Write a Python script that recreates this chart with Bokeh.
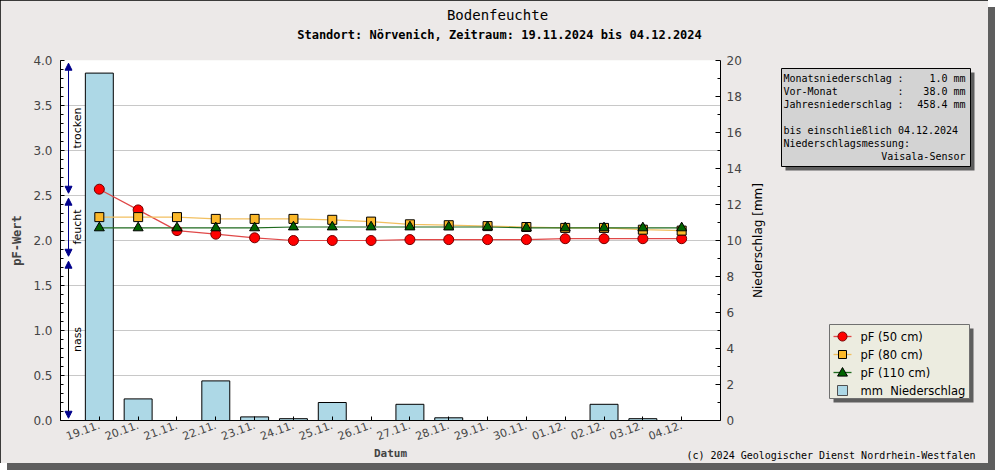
import math
from bokeh.plotting import figure
from bokeh.models import (Range1d, LinearAxis, FixedTicker, PrintfTickFormatter, Label, Arrow,
                          NormalHead)
from bokeh.core.properties import value
from bokeh.embed import file_html
from bokeh.resources import INLINE

# ---------------- data ----------------
dates = ["19.11.", "20.11.", "21.11.", "22.11.", "23.11.", "24.11.", "25.11.", "26.11.",
         "27.11.", "28.11.", "29.11.", "30.11.", "01.12.", "02.12.", "03.12.", "04.12."]
pf50 = [2.57, 2.34, 2.11, 2.07, 2.03, 2.00, 2.00, 2.00, 2.01, 2.01, 2.01, 2.01, 2.02, 2.02, 2.02, 2.02]
pf80 = [2.26, 2.26, 2.26, 2.24, 2.24, 2.24, 2.23, 2.21, 2.18, 2.17, 2.16, 2.15, 2.14, 2.14, 2.12, 2.11]
pf110 = [2.14, 2.14, 2.14, 2.14, 2.14, 2.15, 2.15, 2.15, 2.15, 2.15, 2.15, 2.14, 2.14, 2.14, 2.14, 2.14]
rain_mm = [19.3, 1.2, 0.0, 2.2, 0.2, 0.1, 1.0, 0.0, 0.9, 0.15, 0.0, 0.0, 0.0, 0.9, 0.1, 0.0]
pf_ticks = [0.0, 0.5, 1.0, 1.5, 2.0, 2.5, 3.0, 3.5, 4.0]
mm_ticks = [0, 2, 4, 6, 8, 10, 12, 14, 16, 18, 20]
zones = [("trocken", 2.5, 4.0, "#00008B"), ("feucht", 1.8, 2.5, "#00008B"), ("nass", 0.0, 1.8, "#000000")]
info_rows = [("Monatsniederschlag", "1.0 mm"), ("Vor-Monat", "38.0 mm"), ("Jahresniederschlag", "458.4 mm")]
info_notes = ["bis einschließlich 04.12.2024", "Niederschlagsmessung:"]
info_sensor = "Vaisala-Sensor"
series_labels = ["pF (50 cm)", "pF (80 cm)", "pF (110 cm)", "mm\u00a0 Niederschlag"]
series_markers = ["circle", "square", "triangle"]
series_fill = ["#FF0000", "#FBB829", "#006400"]
series_edge = ["#700000", "#000000", "#000000"]
series_line = ["#E04848", "#F2C060", "#1E6B1E"]
bar_fill = "#ADD8E6"
title_text = "Bodenfeuchte"
subtitle_text = "Standort: Nörvenich, Zeitraum: 19.11.2024 bis 04.12.2024"
credit_text = "(c) 2024 Geologischer Dienst Nordrhein-Westfalen"

x = list(range(1, len(dates) + 1))

BG = "#ECE9E8"
p = figure(width=988, height=463, x_range=Range1d(0, len(dates) + 1), y_range=Range1d(0, 4),
           output_backend="svg", toolbar_location=None,
           min_border_left=60, min_border_right=268, min_border_top=60, min_border_bottom=43,
           background_fill_color="white", border_fill_color=BG, outline_line_color=None,
           x_axis_label="Datum", y_axis_label="pF-Wert")
p.stylesheets = [":host { outline: 1px solid #000; outline-offset: -1px; box-shadow: 7px 7px 0 #5E5E5E; }"]

# pixel coordinate system (page pixels) for layout boxes / texts outside the frame
p.extra_x_ranges = {"px": Range1d(60, 720)}
p.extra_y_ranges = {"mm": Range1d(0, 20), "py": Range1d(420, 60)}

# ---- axes ----
yax = p.yaxis[0]
yax.ticker = FixedTicker(ticks=pf_ticks, minor_ticks=[round(i * 0.1, 1) for i in range(41)])
yax.formatter = PrintfTickFormatter(format="%.1f")
yax.major_tick_in = 4
yax.major_tick_out = 0
yax.minor_tick_in = 3
yax.minor_tick_out = 0
yax.major_label_standoff = 8
yax.major_label_text_font = "DejaVu Sans"
yax.major_label_text_font_size = "12px"
yax.axis_label_text_font = "DejaVu Sans Mono"
yax.axis_label_text_font_style = "bold"
yax.axis_label_text_font_size = "12px"
yax.axis_label_standoff = 6
yax.axis_line_color = "black"

xax = p.xaxis[0]
xax.ticker = FixedTicker(ticks=x)
xax.major_label_overrides = {i: d for i, d in zip(x, dates)}
xax.major_label_orientation = 0.35
xax.major_tick_in = 4
xax.major_tick_out = 0
xax.minor_tick_line_color = None
xax.major_label_standoff = 4
xax.major_label_text_font = "DejaVu Sans"
xax.major_label_text_font_size = "11px"
xax.axis_label_text_font = "DejaVu Sans Mono"
xax.axis_label_text_font_style = "bold"
xax.axis_label_text_font_size = "11px"
xax.axis_label_standoff = 0
xax.axis_line_color = "black"

rax = LinearAxis(y_range_name="mm",
                 ticker=FixedTicker(ticks=mm_ticks, minor_ticks=[t + 1 for t in mm_ticks[:-1]]))
rax.major_tick_in = 5
rax.major_tick_out = 0
rax.minor_tick_in = 3
rax.minor_tick_out = 0
rax.major_label_standoff = 6
rax.major_label_text_font = "DejaVu Sans"
rax.major_label_text_font_size = "12px"
p.add_layout(rax, "right")

p.xgrid.visible = False
p.ygrid[0].ticker = FixedTicker(ticks=pf_ticks)
p.ygrid[0].grid_line_color = "#C8C8C8"

# ---- data marks ----
bars = p.vbar(x=x, top=rain_mm, width=0.72, y_range_name="mm",
              fill_color=bar_fill, line_color="black", line_width=1)
for ys, lc in zip([pf50, pf80, pf110], series_line):
    p.line(x, ys, line_color=lc, line_width=1.2)
for ys, mk, fc, ec in zip([pf50, pf80, pf110], series_markers, series_fill, series_edge):
    p.scatter(x, ys, marker=mk, size=10 if mk != "square" else 9, fill_color=fc, line_color=ec)

# ---- zone arrows on the left ----
for name, lo, hi, col in zones:
    p.add_layout(Arrow(x_start=68, x_end=68, y_start=lo + 0.025, y_end=hi - 0.03,
                       x_range_name="px", line_color=col, line_width=1,
                       start=NormalHead(size=7, fill_color="#00008B", line_color="#00008B"),
                       end=NormalHead(size=7, fill_color="#00008B", line_color="#00008B")))
    p.add_layout(Label(x=77, y=(lo + hi) / 2, x_range_name="px", text=name, angle=math.pi / 2,
                       text_align="center", text_baseline="middle",
                       text_font="DejaVu Sans", text_font_size="11px", text_color="black"))


def txt(xs, ys, texts, align="left", font="DejaVu Sans Mono", size="10px", style="normal", angle=0.0):
    return p.text(x=xs, y=ys, text=texts, x_range_name="px", y_range_name="py", level="overlay",
                  text_align=align, text_baseline="middle", angle=angle,
                  text_font=value(font), text_font_size=value(size), text_font_style=value(style),
                  text_color="black")


def box(left, right, top, bottom, fill, line=None):
    return p.quad(left=[left], right=[right], top=[top], bottom=[bottom], x_range_name="px",
                  y_range_name="py", level="overlay", fill_color=fill, fill_alpha=1,
                  line_color=line, line_width=1)


def marker_shape(kind, cx, cy, r):
    if kind == "circle":
        n = 24
        return ([cx + r * math.cos(2 * math.pi * k / n) for k in range(n)],
                [cy + r * math.sin(2 * math.pi * k / n) for k in range(n)])
    if kind == "triangle":
        return [cx, cx - r * 1.1, cx + r * 1.1], [cy - r * 1.1, cy + r * 0.8, cy + r * 0.8]
    return [cx - r, cx + r, cx + r, cx - r], [cy - r, cy - r, cy + r, cy + r]


# ---- titles, axis label on the right, credit ----
txt([497], [14], [title_text], align="center", size="14px")
txt([499], [34], [subtitle_text], align="center", size="12px", style="bold")
txt([975], [455], [credit_text], align="right", size="10px")
txt([757], [240], ["Niederschlag [mm]"], align="center", font="DejaVu Sans", size="12px", angle=math.pi / 2)

# ---- info box ----
box(785, 974, 72, 170, "#5E5E5E")
box(781, 970, 68, 166, "#D3D3D3", "black")
rows_y = [78 + 13 * k for k in range(len(info_rows))]
txt([783] * len(info_rows), rows_y, [r[0] for r in info_rows])
txt([900] * len(info_rows), rows_y, [":"] * len(info_rows), align="center")
txt([965] * len(info_rows), rows_y, [r[1] for r in info_rows], align="right")
txt([783] * len(info_notes), [130 + 13 * k for k in range(len(info_notes))], info_notes)
txt([965], [156], [info_sensor], align="right")

# ---- legend (drawn in page pixels, outside the frame) ----
box(833, 973, 328, 402, "#5E5E5E")
box(829, 969, 324, 398, "#ECECE0", "#707070")
leg_y = [336 + 18 * k for k in range(len(series_labels))]
for k, (mk, fc, ec, lc) in enumerate(zip(series_markers, series_fill, series_edge, series_line)):
    p.segment(x0=[833], x1=[851], y0=[leg_y[k]], y1=[leg_y[k]], x_range_name="px", y_range_name="py",
              level="overlay", line_color=lc, line_width=1.3)
    mx, my = marker_shape(mk, 842, leg_y[k], 4.5 if mk != "square" else 4)
    p.patch(mx, my, x_range_name="px", y_range_name="py", level="overlay",
            fill_color=fc, line_color=ec, line_width=1)
box(837, 847, leg_y[3] - 5, leg_y[3] + 5, bar_fill, "#505050")
txt([860] * len(series_labels), leg_y, series_labels, font="DejaVu Sans", size="11.5px")

open("out.html", "w").write(file_html(p, INLINE))
